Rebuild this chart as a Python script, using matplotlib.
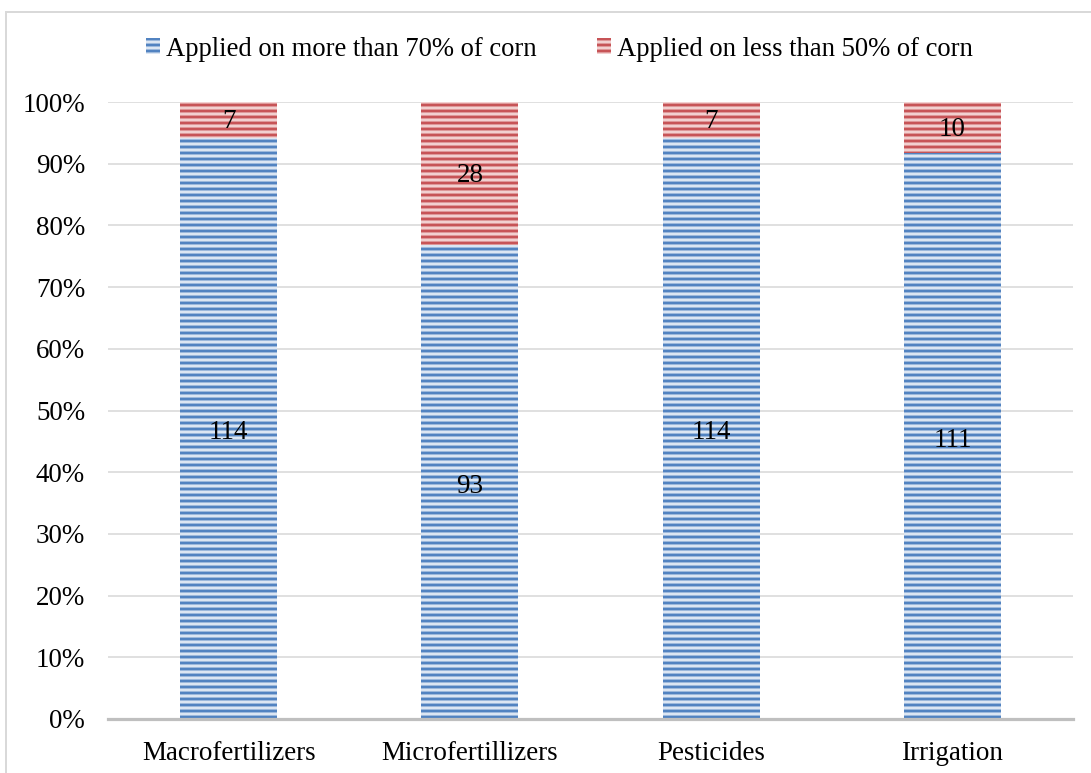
import matplotlib
matplotlib.use("Agg")
import matplotlib.pyplot as plt
from matplotlib.patches import Patch
from matplotlib.lines import Line2D
from matplotlib.ticker import PercentFormatter

categories = ["Macrofertilizers", "Microfertillizers", "Pesticides", "Irrigation"]
more_than_70 = [114, 93, 114, 111]
less_than_50 = [7, 28, 7, 10]
series_names = ["Applied on more than 70% of corn", "Applied on less than 50% of corn"]

DPI = 108
W, H = 1091, 773


def px(v):
    """Convert a size in pixels to points at the figure's dpi."""
    return v * 72 / DPI


plt.rcParams["font.family"] = ["Liberation Serif", "DejaVu Serif"]
plt.rcParams["hatch.linewidth"] = px(2.9)

blue_face, blue_line = "#dce6f3", "#5283c1"
red_face, red_line = "#f2d0d0", "#c75457"

fig = plt.figure(figsize=(W / DPI, H / DPI), dpi=DPI)
ax = fig.add_axes([108 / W, 1 - 719 / H, 965 / W, 617 / H])

totals = [a + b for a, b in zip(more_than_70, less_than_50)]
share_more = [a / t * 100 for a, t in zip(more_than_70, totals)]
share_less = [b / t * 100 for b, t in zip(less_than_50, totals)]
x = list(range(len(categories)))
width = 0.402

ax.bar(x, share_more, width, color=blue_face, edgecolor=blue_line,
       linewidth=0, hatch="---", zorder=3)
ax.bar(x, share_less, width, bottom=share_more, color=red_face,
       edgecolor=red_line, linewidth=0, hatch="---", zorder=3)

fs = px(27)
for i in x:
    ax.annotate(str(more_than_70[i]), (i, share_more[i] / 2), xytext=(0, -px(4.5)),
                textcoords="offset points", ha="center", va="center",
                fontsize=fs, zorder=4)
    ax.annotate(str(less_than_50[i]), (i, share_more[i] + share_less[i] / 2),
                xytext=(0, -px(2)), textcoords="offset points",
                ha="center", va="center", fontsize=fs, zorder=4)

ax.set_xlim(-0.5, 3.5)
ax.set_ylim(0, 100)
ax.set_yticks(range(0, 101, 10))
ax.yaxis.set_major_formatter(PercentFormatter(decimals=0))
ax.set_xticks(x)
ax.set_xticklabels(categories)
ax.tick_params(axis="both", length=0, labelsize=fs)
ax.tick_params(axis="y", pad=px(23))
ax.tick_params(axis="x", pad=px(22))
ax.grid(axis="y", color="#d9d9d9", linewidth=px(1.6), zorder=0)
for side in ["top", "right", "left"]:
    ax.spines[side].set_visible(False)
ax.spines["bottom"].set_color("#bfbfbf")
ax.spines["bottom"].set_linewidth(px(3.2))
ax.spines["bottom"].set_zorder(5)

handles = [Patch(facecolor=blue_face, edgecolor=blue_line, linewidth=0, hatch="---"),
           Patch(facecolor=red_face, edgecolor=red_line, linewidth=0, hatch="---")]
fig.legend(handles, series_names, loc="center", bbox_to_anchor=(0.5128, 1 - 49 / H),
           ncol=2, frameon=False, fontsize=px(26.6), handlelength=0.55,
           handleheight=0.55, handletextpad=0.22, columnspacing=2.25)

# Outer frame of the chart area
fig.add_artist(Line2D([6 / W, 1.0], [1 - 12 / H, 1 - 12 / H],
                      transform=fig.transFigure, color="#d9d9d9", linewidth=px(2)))
fig.add_artist(Line2D([6 / W, 6 / W], [0.0, 1 - 12 / H],
                      transform=fig.transFigure, color="#d9d9d9", linewidth=px(2)))

fig.savefig("out.png", dpi=DPI)
